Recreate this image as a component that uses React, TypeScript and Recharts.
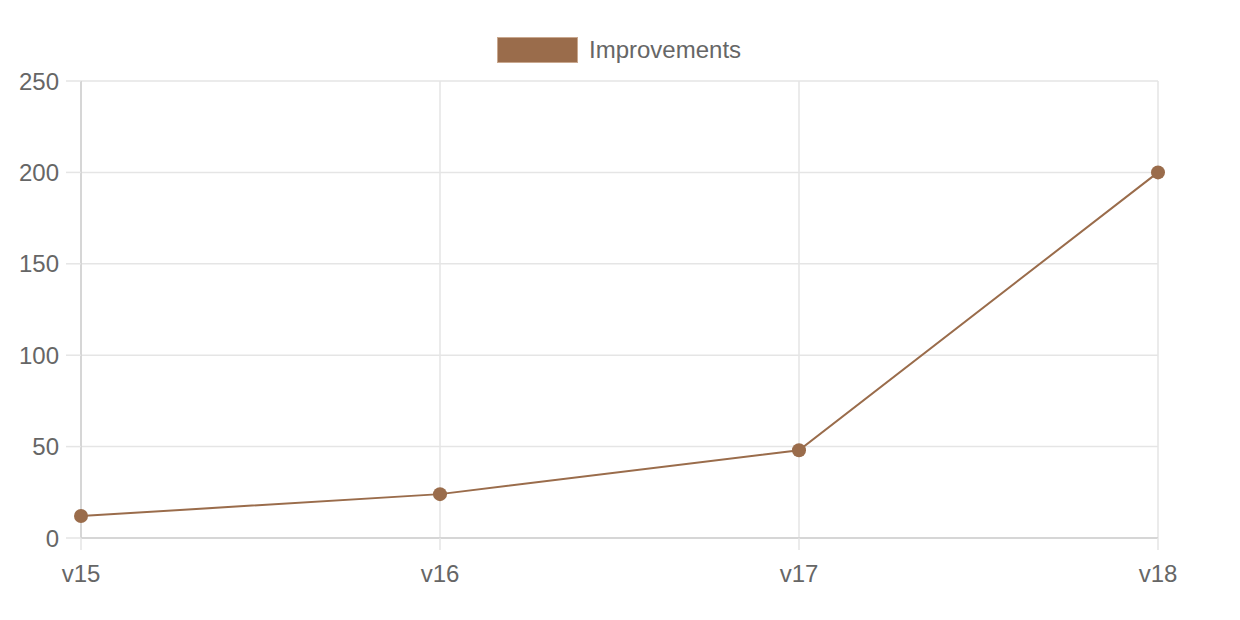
import { LineChart, Line, XAxis, YAxis, CartesianGrid } from "recharts";

const versions = ["v15", "v16", "v17", "v18"];
const improvements = [12, 24, 48, 200];
const yTicks = [0, 50, 100, 150, 200, 250];

const data = versions.map((v, i) => ({ version: v, improvements: improvements[i] }));

const brown = "#9a6c4b";
const font = "Helvetica, Arial, 'Liberation Sans', sans-serif";

export default function App() {
  return (
    <div style={{ position: "absolute", left: 0, top: 0, width: 1240, height: 620, fontFamily: font }}>
      <div
        style={{
          position: "absolute",
          top: 36,
          left: 497,
          display: "flex",
          alignItems: "center",
          gap: 11,
          color: "#666",
          fontSize: 24,
        }}
      >
        <span style={{ width: 79, height: 24, background: brown, border: "1px solid #c9a88f" }} />
        <span>Improvements</span>
      </div>
      <LineChart width={1240} height={620} data={data} margin={{ top: 81, right: 82, bottom: 0, left: 0 }}>
        <CartesianGrid stroke="#e5e5e5" strokeWidth={1.5} />
        <XAxis
          dataKey="version"
          height={82}
          tickSize={12}
          tickMargin={15}
          tickLine={{ stroke: "#e5e5e5", strokeWidth: 1.5 }}
          axisLine={{ stroke: "#cfcfcf", strokeWidth: 1.5 }}
          tick={{ fill: "#666", fontSize: 24, fontFamily: font }}
        />
        <YAxis
          width={81}
          domain={[0, 250]}
          ticks={yTicks}
          tickSize={15}
          tickMargin={7}
          tickLine={{ stroke: "#e5e5e5", strokeWidth: 1.5 }}
          axisLine={{ stroke: "#cfcfcf", strokeWidth: 1.5 }}
          tick={{ fill: "#666", fontSize: 24, fontFamily: font }}
        />
        <Line
          dataKey="improvements"
          stroke={brown}
          strokeWidth={2}
          dot={{ r: 7, fill: brown, stroke: brown, strokeWidth: 0 }}
          activeDot={false}
          isAnimationActive={false}
        />
      </LineChart>
    </div>
  );
}
